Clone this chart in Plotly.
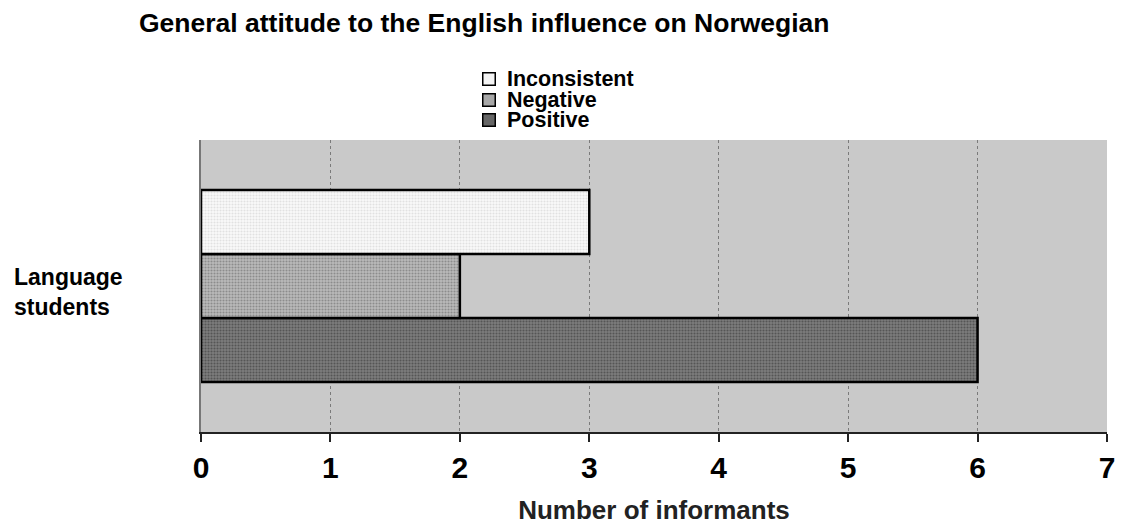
import plotly.graph_objects as go

# data
categories = ["Language students"]
series_names = ["Positive", "Negative", "Inconsistent"]
positive = [6]
negative = [2]
inconsistent = [3]
x_ticks = [0, 1, 2, 3, 4, 5, 6, 7]

FONT = "Liberation Sans, Arial, sans-serif"

# the page body has an 8px margin, so the figure starts 8px in from the window corner
W, H = 1109, 517
L, R, T, B = 193, 10, 132, 93
PW, PH = W - L - R, H - T - B


def px(x):
    # window pixel -> paper x
    return (x - 8 - L) / PW


def py(y):
    # window pixel -> paper y
    return (H - B - (y - 8)) / PH


fills = {
    "Positive": ("#7c7c7c", "#2e2e2e"),
    "Negative": ("#bababa", "#5e5e5e"),
    "Inconsistent": ("#fafafa", "#c8c8c8"),
}
swatch = {"Positive": "#666666", "Negative": "#a8a8a8", "Inconsistent": "#f4f4f4"}

fig = go.Figure()
for name, vals in zip(series_names, [positive, negative, inconsistent]):
    bg, fg = fills[name]
    fig.add_trace(go.Bar(
        y=categories,
        x=vals,
        name=name,
        orientation="h",
        marker=dict(
            color=bg,
            line=dict(color="black", width=2.5),
            pattern=dict(shape=".", bgcolor=bg, fgcolor=fg, size=3, solidity=0.4),
        ),
    ))

fig.update_layout(
    width=W,
    height=H,
    barmode="group",
    bargap=0.342,
    bargroupgap=0,
    paper_bgcolor="white",
    plot_bgcolor="#c9c9c9",
    margin=dict(l=L, r=R, t=T, b=B, autoexpand=False),
    font=dict(family=FONT, color="black"),
    title=dict(
        text="<b>General attitude to the English influence on Norwegian</b>",
        x=131 / W, xanchor="left", xref="container",
        y=1 - 15 / H, yanchor="middle", yref="container",
        font=dict(size=26.5, family=FONT, color="black"),
    ),
    showlegend=False,
)

fig.update_xaxes(
    range=[0, 7],
    tickvals=x_ticks,
    ticktext=[f"<b>{t}</b>" for t in x_ticks],
    tickfont=dict(size=30, family=FONT, color="black"),
    ticks="outside", ticklen=8, tickcolor="#222", tickwidth=1.5,
    showline=True, linecolor="#222", linewidth=2,
    showgrid=True, gridcolor="#7a7a7a", gridwidth=1, griddash="dot",
    zeroline=False,
    title=dict(text="<b>Number of informants</b>", font=dict(size=26, family=FONT, color="#222"), standoff=22),
    fixedrange=True,
)
fig.update_yaxes(
    showticklabels=False,
    showline=True, linecolor="#777", linewidth=2,
    showgrid=False, zeroline=False,
    fixedrange=True,
)

# category label
fig.add_annotation(
    text="<b>Language</b><br><b>students</b>",
    xref="paper", yref="paper",
    x=px(12), xanchor="left",
    y=py(292), yanchor="middle",
    align="left",
    showarrow=False,
    font=dict(size=23, family=FONT, color="black"),
)

# legend drawn as annotations so the rows can sit close together
legend_rows = ["Inconsistent", "Negative", "Positive"]
for i, name in enumerate(legend_rows):
    yc = 79.5 + i * 20.5
    fig.add_annotation(
        text=" ", xref="paper", yref="paper",
        x=px(488.5), xanchor="center", y=py(yc), yanchor="middle",
        width=11, height=11, borderpad=0,
        bgcolor=swatch[name], bordercolor="black", borderwidth=1.5,
        showarrow=False, font=dict(size=8),
    )
    fig.add_annotation(
        text=f"<b>{name}</b>", xref="paper", yref="paper",
        x=px(505), xanchor="left", y=py(yc), yanchor="middle",
        showarrow=False,
        font=dict(size=21.5, family=FONT, color="black"),
    )

fig.write_html("out.html")
